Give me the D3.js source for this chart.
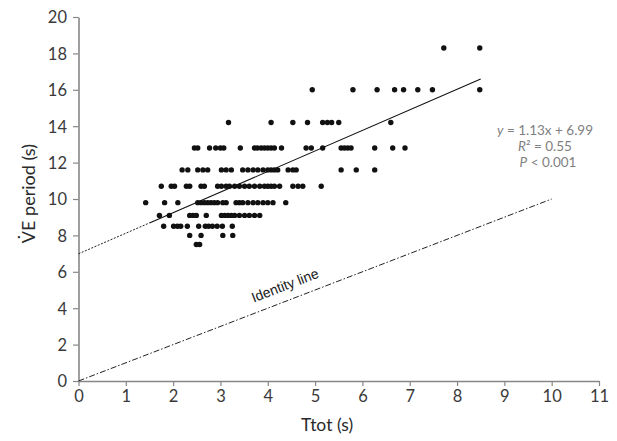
<!DOCTYPE html>
<html>
<head>
<meta charset="utf-8">
<script src="https://cdn.jsdelivr.net/npm/d3@7"></script>
<style>
  html, body { margin: 0; padding: 0; background: #fff; }
  svg { display: block; }
  .tick text { font-family: Lato, "Open Sans", sans-serif; font-size: 16.5px; fill: #3a3a3a; }
</style>
</head>
<body>
<svg id="chart" width="617" height="441"></svg>
<script>
// ---- data ----
const xTicks = [0, 1, 2, 3, 4, 5, 6, 7, 8, 9, 10, 11];
const yTicks = [0, 2, 4, 6, 8, 10, 12, 14, 16, 18, 20];
const vePeriodLevels = [18.3, 16.0, 14.2, 12.8, 11.6, 10.7, 9.8, 9.1, 8.5, 8.0, 7.5];
const ttotAtLevel = [
  [7.72, 8.48],
  [4.94, 5.8, 6.31, 6.68, 6.87, 7.17, 7.48, 8.48],
  [3.17, 4.07, 4.53, 4.84, 5.16, 5.26, 5.35, 5.5, 6.6],
  [2.45, 2.52, 2.77, 2.9, 3.0, 3.07, 3.42, 3.72, 3.78, 3.86, 3.93, 4.0, 4.07, 4.14, 4.29, 4.81, 4.92, 5.16, 5.55, 5.62, 5.69, 5.76, 6.26, 6.64, 6.9],
  [2.19, 2.31, 2.52, 2.63, 2.73, 3.02, 3.12, 3.23, 3.47, 3.58, 3.69, 3.79, 3.9, 4.0, 4.07, 4.14, 4.21, 4.43, 4.53, 4.6, 5.55, 5.87, 6.26],
  [1.75, 1.96, 2.03, 2.28, 2.35, 2.59, 2.66, 2.94, 3.02, 3.12, 3.19, 3.3, 3.4, 3.51, 3.61, 3.72, 3.83, 3.93, 4.0, 4.07, 4.14, 4.25, 4.53, 4.64, 4.74, 5.13],
  [1.42, 1.82, 2.1, 2.52, 2.59, 2.66, 2.73, 2.8, 2.87, 2.94, 3.05, 3.12, 3.33, 3.4, 3.47, 3.58, 3.69, 3.79, 3.9, 4.0, 4.11, 4.38],
  [1.71, 1.92, 2.35, 2.42, 2.49, 2.7, 3.02, 3.09, 3.16, 3.23, 3.3, 3.4, 3.51, 3.61, 3.72, 3.83],
  [1.8, 2.01, 2.09, 2.16, 2.3, 2.54, 2.68, 2.75, 2.83, 2.93, 3.04, 3.25],
  [2.35, 2.59, 3.05, 3.26],
  [2.49, 2.56]
];
const slope = 1.13, intercept = 6.99;
const fitStart = 0, fitSolidStart = 1.5, fitEnd = 8.5;
const identityEnd = 10;
const statsLines = ["y = 1.13x + 6.99", "R² = 0.55", "P < 0.001"];

// ---- build points ----
const points = [];
vePeriodLevels.forEach((v, i) => ttotAtLevel[i].forEach(t => points.push({ t, v })));

const svg = d3.select("#chart");
const x = d3.scaleLinear().domain([0, 11]).range([78.5, 599]);
const y = d3.scaleLinear().domain([0, 20]).range([381, 17]);
const axisColor = "#878787";

// axes
const gx = svg.append("g").attr("transform", `translate(0,${y(0)})`)
  .call(d3.axisBottom(x).tickValues(xTicks).tickFormat(d3.format("d")).tickSize(5).tickSizeOuter(0).tickPadding(4));
const gy = svg.append("g").attr("transform", `translate(${x(0)},0)`)
  .call(d3.axisLeft(y).tickValues(yTicks).tickFormat(d3.format("d")).tickSize(5.5).tickSizeOuter(0).tickPadding(6));
[gx, gy].forEach(g => {
  g.select(".domain").attr("stroke", axisColor).attr("stroke-width", 1.6);
  g.selectAll(".tick line").attr("stroke", axisColor).attr("stroke-width", 1.2);
});
gy.selectAll(".tick text").attr("dy", "0.36em");

// axis titles
svg.append("text").attr("x", 327).attr("y", 431).attr("text-anchor", "middle")
  .attr("font-family", "Lato, 'Open Sans', sans-serif").attr("font-size", 17.5).attr("fill", "#2a2a2a")
  .text("Ttot (s)");
svg.append("text").attr("transform", `translate(35,${y(10.3)}) rotate(-90)`).attr("text-anchor", "middle")
  .attr("font-family", "Lato, 'Open Sans', sans-serif").attr("font-size", 18).attr("fill", "#2a2a2a")
  .text("V\u0307E period (s)");

// identity line
svg.append("line")
  .attr("x1", x(0)).attr("y1", y(0)).attr("x2", x(identityEnd)).attr("y2", y(identityEnd))
  .attr("stroke", "#222").attr("stroke-width", 1).attr("stroke-dasharray", "6,2,1.5,2");

// identity label
const angle = Math.atan2(y(identityEnd) - y(0), x(identityEnd) - x(0)) * 180 / Math.PI;
const lx = x(4.4), ly = y(4.4) - 11;
svg.append("text").attr("transform", `translate(${lx},${ly}) rotate(${angle})`)
  .attr("text-anchor", "middle").attr("font-family", "'Liberation Sans', Arial, sans-serif")
  .attr("font-size", 14).attr("fill", "#222").text("Identity line");

// regression line: dotted back-extension + solid fit
svg.append("line")
  .attr("x1", x(fitStart)).attr("y1", y(slope * fitStart + intercept))
  .attr("x2", x(fitSolidStart)).attr("y2", y(slope * fitSolidStart + intercept))
  .attr("stroke", "#222").attr("stroke-width", 1).attr("stroke-dasharray", "2,1.5");
svg.append("line")
  .attr("x1", x(fitSolidStart)).attr("y1", y(slope * fitSolidStart + intercept))
  .attr("x2", x(fitEnd)).attr("y2", y(slope * fitEnd + intercept))
  .attr("stroke", "#111").attr("stroke-width", 1.1);

// points
svg.append("g").selectAll("circle").data(points).join("circle")
  .attr("cx", d => x(d.t)).attr("cy", d => y(d.v)).attr("r", 2.7).attr("fill", "#111");

// stats annotation
const stats = svg.append("text").attr("font-family", "Lato, 'Open Sans', sans-serif")
  .attr("font-size", 13.5).attr("fill", "#7f7f7f").attr("text-anchor", "middle");
const t1 = stats.append("tspan").attr("x", 545).attr("y", 135);
t1.append("tspan").attr("font-style", "italic").text("y");
t1.append("tspan").text(statsLines[0].slice(1));
const t2 = stats.append("tspan").attr("x", 545).attr("y", 151);
t2.append("tspan").attr("font-style", "italic").text("R");
t2.append("tspan").text(statsLines[1].slice(1));
const t3 = stats.append("tspan").attr("x", 548).attr("y", 167);
t3.append("tspan").attr("font-style", "italic").text("P");
t3.append("tspan").text(statsLines[2].slice(1));
</script>
</body>
</html>
